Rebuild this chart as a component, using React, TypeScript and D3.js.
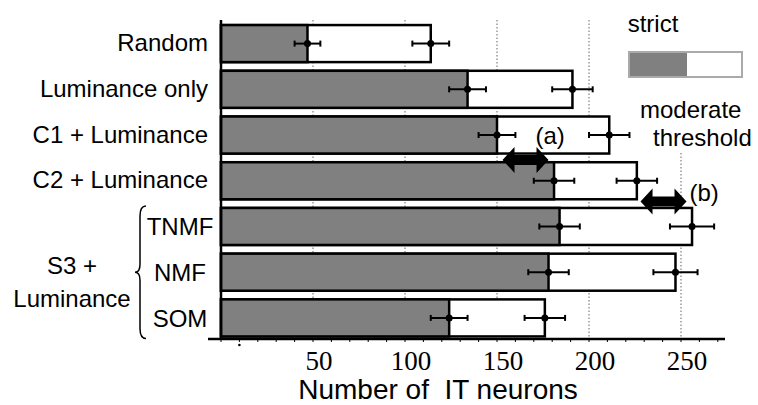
import React from "react";
import * as d3 from "d3";

const WIDTH = 758;
const HEIGHT = 405;

// categories top to bottom
const categories = [
  "Random",
  "Luminance only",
  "C1 + Luminance",
  "C2 + Luminance",
  "TNMF",
  "NMF",
  "SOM",
];
const strictValues = [47, 134, 150, 181, 184, 178, 124];
const strictErrors = [7, 10, 10, 11, 11, 11, 10];
const moderateValues = [114, 191, 211, 226, 256, 247, 176];
const moderateErrors = [10, 11, 11, 11, 12, 12, 11];

const tickValues = [50, 100, 150, 200, 250];
const minorTicks = d3.range(0, 271, 10);

// S3 sub-models share a bracketed label
const bracedCategories = ["TNMF", "NMF", "SOM"];
const braceLabel = ["S3 +", "Luminance"];

// difference arrows: [label, from, to, upper row]
const arrowLabels = ["(a)", "(b)"];
const arrowFrom = [153, 228];
const arrowTo = [178, 253];
const arrowUpperRow = ["C1 + Luminance", "C2 + Luminance"];

const SANS = "'Liberation Sans', Arial, sans-serif";
const SERIF = "'Liberation Serif', 'Times New Roman', serif";
const GRAY = "#808080";

export default function App() {
  const x = d3.scaleLinear().domain([0, 100]).range([221, 405]);
  const y = d3
    .scaleBand<string>()
    .domain(categories)
    .range([20.5, 341])
    .paddingInner(0.19)
    .paddingOuter(0.1);
  const bw = y.bandwidth();
  const axisY = 339;

  const arrowPath = (x1: number, x2: number, cy: number) => {
    const hl = 12;
    const hh = 13;
    const st = 5;
    return (
      d3.line()([
        [x1, cy],
        [x1 + hl, cy - hh],
        [x1 + hl, cy - st],
        [x2 - hl, cy - st],
        [x2 - hl, cy - hh],
        [x2, cy],
        [x2 - hl, cy + hh],
        [x2 - hl, cy + st],
        [x1 + hl, cy + st],
        [x1 + hl, cy + hh],
      ]) + "Z"
    );
  };

  const errorBar = (v: number, e: number, cy: number, key: string) => (
    <g key={key} stroke="#000" strokeWidth={2}>
      <line x1={x(v - e)} x2={x(v + e)} y1={cy} y2={cy} />
      <line x1={x(v - e)} x2={x(v - e)} y1={cy - 3} y2={cy + 3} />
      <line x1={x(v + e)} x2={x(v + e)} y1={cy - 3} y2={cy + 3} />
      <circle cx={x(v)} cy={cy} r={3.5} fill="#000" stroke="none" />
    </g>
  );

  const braceTop = y(bracedCategories[0])! - 2;
  const braceBottom = y(bracedCategories[bracedCategories.length - 1])! + bw + 2;
  const braceMid = (braceTop + braceBottom) / 2;
  const bx = 146;
  const bracePath =
    `M${bx},${braceTop} Q${bx - 6},${braceTop} ${bx - 6},${braceTop + 10}` +
    ` L${bx - 6},${braceMid - 8} Q${bx - 6},${braceMid} ${bx - 11},${braceMid}` +
    ` Q${bx - 6},${braceMid} ${bx - 6},${braceMid + 8}` +
    ` L${bx - 6},${braceBottom - 10} Q${bx - 6},${braceBottom} ${bx},${braceBottom}`;

  return (
    <svg
      width={WIDTH}
      height={HEIGHT}
      style={{ position: "absolute", left: 0, top: 0, background: "#fff" }}
    >
      {/* dotted gridlines */}
      {tickValues.map((t) => (
        <line
          key={"g" + t}
          x1={x(t)}
          x2={x(t)}
          y1={20}
          y2={axisY}
          stroke="#999"
          strokeWidth={1.5}
          strokeDasharray="1.5 2"
        />
      ))}

      {/* legend area (white backing) */}
      <rect x={618} y={0} width={140} height={152} fill="#fff" />
      <text x={653} y={32} fontFamily={SANS} fontSize={24} textAnchor="middle">
        strict
      </text>
      <rect x={629} y={52} width={113} height={25} fill="#fff" stroke="#aaa" strokeWidth={2} />
      <rect x={630} y={53} width={57} height={23} fill={GRAY} />
      <text x={640} y={118} fontFamily={SANS} fontSize={24}>
        moderate
      </text>
      <text x={653} y={146} fontFamily={SANS} fontSize={24}>
        threshold
      </text>

      {/* bars */}
      {categories.map((c, i) => (
        <g key={c}>
          <rect
            x={x(0)}
            y={y(c)}
            width={x(moderateValues[i]) - x(0)}
            height={bw}
            fill="#fff"
            stroke="#000"
            strokeWidth={2.5}
          />
          <rect
            x={x(0)}
            y={y(c)}
            width={x(strictValues[i]) - x(0)}
            height={bw}
            fill={GRAY}
            stroke="#000"
            strokeWidth={2.5}
          />
          {errorBar(strictValues[i], strictErrors[i], y(c)! + bw / 2, c + "s")}
          {errorBar(moderateValues[i], moderateErrors[i], y(c)! + bw / 2, c + "m")}
        </g>
      ))}

      {/* left axis */}
      <line x1={x(0)} x2={x(0)} y1={20} y2={axisY} stroke="#000" strokeWidth={2.5} />

      {/* bottom axis */}
      <line x1={208} x2={725} y1={axisY} y2={axisY} stroke="#000" strokeWidth={2.5} />
      {minorTicks.map((t) => (
        <line
          key={"m" + t}
          x1={x(t)}
          x2={x(t)}
          y1={axisY}
          y2={axisY + 3}
          stroke="#000"
          strokeWidth={1}
        />
      ))}
      <circle cx={x(10)} cy={345} r={1.3} fill="#000" />
      {tickValues.map((t) => (
        <text
          key={"t" + t}
          x={x(t) + 6}
          y={370}
          fontFamily={SERIF}
          fontSize={27}
          textAnchor="middle"
        >
          {t}
        </text>
      ))}
      <text
        x={438}
        y={399}
        fontFamily={SANS}
        fontSize={28}
        textAnchor="middle"
        style={{ whiteSpace: "pre" }}
      >
        {"Number of  IT neurons"}
      </text>

      {/* category labels */}
      {categories.map((c) =>
        bracedCategories.includes(c) ? (
          <text
            key={"l" + c}
            x={180}
            y={y(c)! + bw / 2 + 9}
            fontFamily={SANS}
            fontSize={24}
            textAnchor="middle"
          >
            {c}
          </text>
        ) : (
          <text
            key={"l" + c}
            x={208}
            y={y(c)! + bw / 2 + 7.5}
            fontFamily={SANS}
            fontSize={24}
            textAnchor="end"
          >
            {c}
          </text>
        )
      )}
      <path d={bracePath} fill="none" stroke="#000" strokeWidth={1.5} />
      {braceLabel.map((l, i) => (
        <text
          key={"b" + i}
          x={72}
          y={274 + i * 33}
          fontFamily={SANS}
          fontSize={24}
          textAnchor="middle"
        >
          {l}
        </text>
      ))}

      {/* difference arrows */}
      {arrowLabels.map((l, i) => {
        const upper = arrowUpperRow[i];
        const cy = y(upper)! + bw + (y.step() - bw) / 2 + (i === 0 ? 2 : -2);
        return (
          <g key={l}>
            <path d={arrowPath(x(arrowFrom[i]), x(arrowTo[i]), cy)} fill="#000" />
            <text
              x={i === 0 ? x(arrowTo[i]) - 13 : x(arrowTo[i]) + 3}
              y={i === 0 ? cy - 16 : cy - 1}
              fontFamily={SANS}
              fontSize={24}
            >
              {l}
            </text>
          </g>
        );
      })}
    </svg>
  );
}
